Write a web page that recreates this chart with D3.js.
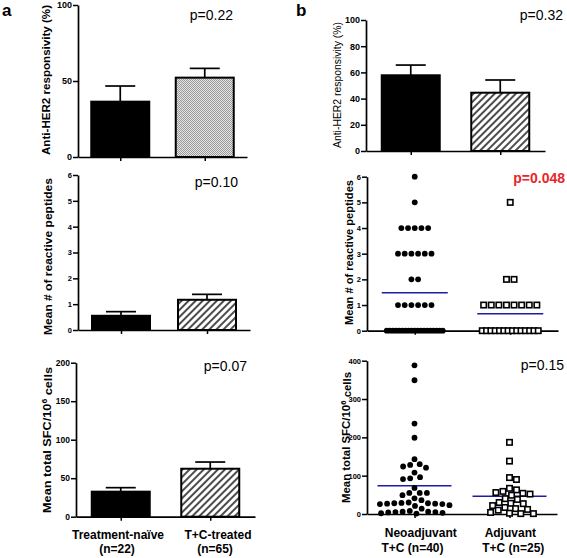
<!DOCTYPE html>
<html><head><meta charset="utf-8">
<script src="https://cdn.jsdelivr.net/npm/d3@7/dist/d3.min.js"></script>
<style>
html,body{margin:0;padding:0;background:#fff;}
svg{display:block;font-family:"Liberation Sans",Arial,sans-serif;}
</style></head>
<body><svg id="c" width="567" height="558"></svg>
<script>
// ---------- data ----------
const groupsA = ["Treatment-naïve", "T+C-treated"];
const nLabelsA = ["(n=22)", "(n=65)"];
const groupsB = ["Neoadjuvant", "Adjuvant"];
const nLabelsB = ["T+C (n=40)", "T+C (n=25)"];

const respA = [36.4, 52.2];
const respASem = [10.3, 6.1];
const peptA = [0.55, 1.17];
const peptASem = [0.16, 0.21];
const sfcA = [32.5, 62.3];
const sfcASem = [5.2, 8.7];
const respB = [57.8, 44.5];
const respBSem = [7.8, 9.7];

const peptNeo = [6, 5, 4, 4, 4, 4, 4, 3, 3, 3, 3, 3, 3, 2, 2, 1, 1, 1, 1, 1, 1,
  0, 0, 0, 0, 0, 0, 0, 0, 0, 0, 0, 0, 0, 0, 0, 0, 0, 0, 0];
const peptAdj = [5, 2, 2, 1, 1, 1, 1, 1, 1, 1, 1, 0, 0, 0, 0, 0, 0, 0, 0, 0, 0, 0, 0, 0, 0];
const peptMeans = [1.48, 0.66];

const sfcNeo = [388, 349, 236, 199, 143, 128, 121, 124, 130, 108, 91, 93, 96, 68,
  55, 55, 55, 49, 41, 36, 28, 27, 29, 26, 28, 27, 30, 26, 21, 23, 14,
  5, 4, 6, 3, 5, 2, 6, 1, 8];
const sfcAdj = [187, 138, 95, 90, 63, 56, 52, 54, 59, 67, 49, 38, 28, 27, 30, 40,
  22, 14, 10, 2, 1, 1, 4, 12, 17];
const sfcMeans = [73.8, 46.2];

const pValues = ["p=0.22", "p=0.10", "p=0.07", "p=0.32", "p=0.048", "p=0.15"];
const ticksResp = [0, 50, 100];
const ticksPept = [0, 1, 2, 3, 4, 5, 6];
const ticksSfcA = [0, 50, 100, 150, 200];
const ticksRespB = [0, 20, 40, 60, 80, 100];
const ticksSfcB = [0, 100, 200, 300, 400];

// ---------- drawing ----------
const svg = d3.select("#c");
const defs = svg.append("defs");
const hatch = defs.append("pattern").attr("id", "hatch").attr("patternUnits", "userSpaceOnUse")
  .attr("width", 5).attr("height", 5).attr("patternTransform", "rotate(45)");
hatch.append("rect").attr("width", 5).attr("height", 5).attr("fill", "#fff");
hatch.append("line").attr("x1", 1).attr("y1", 0).attr("x2", 1).attr("y2", 5)
  .attr("stroke", "#000").attr("stroke-width", 1.4);
const dots = defs.append("pattern").attr("id", "dots").attr("patternUnits", "userSpaceOnUse")
  .attr("width", 2).attr("height", 2);
dots.append("rect").attr("width", 2).attr("height", 2).attr("fill", "#e4e4e4");
dots.append("rect").attr("width", 1).attr("height", 1).attr("fill", "#9a9a9a");
dots.append("rect").attr("x", 1).attr("y", 1).attr("width", 1).attr("height", 1).attr("fill", "#9a9a9a");

function axes(cfg) {
  const y = d3.scaleLinear().domain([0, cfg.ticks[cfg.ticks.length - 1]]).range([cfg.y0, cfg.yTop]);
  const x = d3.scalePoint().domain(cfg.groups).range([cfg.axisX, cfg.xRight]).padding(0.5);
  const gy = svg.append("g").attr("transform", `translate(${cfg.axisX},0)`)
    .call(d3.axisLeft(y).tickValues(cfg.ticks).tickFormat(d3.format("d"))
      .tickSize(5).tickSizeOuter(0).tickPadding(1));
  gy.select(".domain").attr("stroke", "#000").attr("stroke-width", 1.7);
  gy.selectAll(".tick line").attr("stroke", "#000").attr("stroke-width", 1.5);
  gy.selectAll(".tick text").attr("fill", "#000").attr("font-weight", "bold")
    .attr("font-size", cfg.tickFs).attr("font-family", "Liberation Sans, Arial, sans-serif");
  const gx = svg.append("g").attr("transform", `translate(0,${cfg.y0})`)
    .call(d3.axisBottom(x).tickSize(4).tickSizeOuter(0).tickFormat(""));
  gx.select(".domain").attr("stroke", "#000").attr("stroke-width", 1.7);
  gx.selectAll(".tick line").attr("stroke", "#000").attr("stroke-width", 1.5);
  // y title
  const t = svg.append("text")
    .attr("transform", `translate(${cfg.labX},${cfg.labY}) rotate(-90)`)
    .attr("text-anchor", "middle").attr("dy", "0.35em")
    .attr("font-size", 11).attr("font-weight", cfg.labWeight || "bold")
    .attr("textLength", cfg.labLen).attr("lengthAdjust", "spacingAndGlyphs");
  if (cfg.sup) {
    t.append("tspan").text(cfg.label[0]);
    t.append("tspan").attr("dy", "-0.45em").attr("font-size", 7.5).text(cfg.sup);
    t.append("tspan").attr("dy", "0.45em").text(cfg.label[1]);
  } else t.text(cfg.label);
  // p value
  svg.append("text").attr("x", cfg.pX).attr("y", cfg.pY).attr("text-anchor", "end")
    .attr("font-size", 14).attr("font-weight", cfg.pBold ? "bold" : "normal")
    .attr("fill", cfg.pColor || "#000").text(cfg.p);
  return { x, y };
}

function bars(cfg, means, sems, fills) {
  const { x, y } = axes(cfg);
  const bw = 58;
  cfg.groups.forEach((g, i) => {
    const cx = x(g);
    const top = y(means[i]);
    const et = y(means[i] + sems[i]);
    svg.append("line").attr("x1", cx).attr("x2", cx).attr("y1", top).attr("y2", et)
      .attr("stroke", "#000").attr("stroke-width", 1.7);
    svg.append("line").attr("x1", cx - 15).attr("x2", cx + 15).attr("y1", et).attr("y2", et)
      .attr("stroke", "#000").attr("stroke-width", 1.7);
    svg.append("rect").attr("x", cx - bw / 2).attr("y", top).attr("width", bw)
      .attr("height", cfg.y0 - top).attr("fill", fills[i]).attr("stroke", "#000").attr("stroke-width", 2);
  });
}

function drawMark(cx, cy, shape) {
  if (shape === "circle") {
    svg.append("circle").attr("cx", cx).attr("cy", cy).attr("r", 2.9).attr("fill", "#000");
  } else {
    svg.append("rect").attr("x", cx - 2.7).attr("y", cy - 2.7).attr("width", 5.4).attr("height", 5.4)
      .attr("fill", "#fff").attr("stroke", "#000").attr("stroke-width", 1.6);
  }
}

function rowScatter(cfg, sets, means) {
  const { x, y } = axes(cfg);
  const shapes = ["circle", "square"];
  const defSp = [6.7, 7.6];
  cfg.groups.forEach((g, gi) => {
    const cx = x(g);
    const rows = d3.group(sets[gi], v => v);
    rows.forEach((vals, v) => {
      const n = vals.length;
      const sp = n > 1 ? Math.min(defSp[gi], 56 / (n - 1)) : 0;
      vals.forEach((_, i) => drawMark(cx + (i - (n - 1) / 2) * sp, y(v), shapes[gi]));
    });
    svg.append("line").attr("x1", cx - 33).attr("x2", cx + 33).attr("y1", y(means[gi])).attr("y2", y(means[gi]))
      .attr("stroke", "#1c1ca8").attr("stroke-width", 1.5);
  });
}

function swarmScatter(cfg, sets, means) {
  const { x, y } = axes(cfg);
  const shapes = ["circle", "square"];
  const d = 7.2;
  cfg.groups.forEach((g, gi) => {
    const cx = x(g);
    svg.append("line").attr("x1", cx - 37).attr("x2", cx + 37).attr("y1", y(means[gi])).attr("y2", y(means[gi]))
      .attr("stroke", "#1c1ca8").attr("stroke-width", 1.5);
    const vals = sets[gi].slice().sort((a, b) => b - a);
    const placed = [];
    vals.forEach(v => {
      const py = y(v);
      const cands = [0];
      placed.forEach(p => {
        const dy = Math.abs(p.y - py);
        if (dy < d) {
          const dx = Math.sqrt(d * d - dy * dy);
          cands.push(p.x + dx, p.x - dx);
        }
      });
      cands.sort((a, b) => Math.abs(a) - Math.abs(b) || b - a);
      let best = 0;
      for (const c of cands) {
        if (placed.every(p => (p.x - c) ** 2 + (p.y - py) ** 2 >= d * d - 0.01)) { best = c; break; }
      }
      placed.push({ x: best, y: py });
    });
    placed.forEach(p => drawMark(cx + p.x, p.y, shapes[gi]));
  });
}

// Panel a
bars({ groups: groupsA, axisX: 78, xRight: 247, y0: 157, yTop: 5, ticks: ticksResp, tickFs: 9,
  label: "Anti-HER2 responsivity (%)", labX: 45.7, labY: 80, labLen: 150,
  p: pValues[0], pX: 233, pY: 20 }, respA, respASem, ["#000", "url(#dots)"]);
bars({ groups: groupsA, axisX: 78, xRight: 250, y0: 330, yTop: 175, ticks: ticksPept, tickFs: 7.5,
  label: "Mean # of reactive peptides", labX: 48, labY: 256.5, labLen: 157,
  p: pValues[1], pX: 238, pY: 186.5 }, peptA, peptASem, ["#000", "url(#hatch)"]);
bars({ groups: groupsA, axisX: 76, xRight: 255, y0: 516.7, yTop: 362.7, ticks: ticksSfcA, tickFs: 8.5,
  label: ["Mean total SFC/10", " cells"], sup: "6", labX: 46.7, labY: 440, labLen: 146,
  p: pValues[2], pX: 247, pY: 370.5 }, sfcA, sfcASem, ["#000", "url(#hatch)"]);

// Panel b
bars({ groups: groupsB, axisX: 366, xRight: 545, y0: 151, yTop: 20, ticks: ticksRespB, tickFs: 9,
  label: "Anti-HER2 responsivity (%)", labX: 337.3, labY: 85, labLen: 126, labWeight: "normal",
  p: pValues[3], pX: 563, pY: 20 }, respB, respBSem, ["#000", "url(#hatch)"]);
rowScatter({ groups: groupsB, axisX: 367, xRight: 558, y0: 330.7, yTop: 176.7, ticks: ticksPept, tickFs: 7.5,
  label: "Mean # of reactive peptides", labX: 349.3, labY: 252.5, labLen: 145,
  p: pValues[4], pX: 565, pY: 183, pBold: true, pColor: "#e8262a" }, [peptNeo, peptAdj], peptMeans);
swarmScatter({ groups: groupsB, axisX: 367, xRight: 557, y0: 514, yTop: 360.7, ticks: ticksSfcB, tickFs: 7.5,
  label: ["Mean total SFC/10", " cells"], sup: "6", labX: 346, labY: 437.5, labLen: 131,
  p: pValues[5], pX: 564, pY: 370 }, [sfcNeo, sfcAdj], sfcMeans);

// Category labels
const catA = [118, 218];
groupsA.forEach((g, i) => {
  svg.append("text").attr("x", catA[i]).attr("y", 539).attr("text-anchor", "middle")
    .attr("font-size", 12).attr("font-weight", "bold").text(g);
  svg.append("text").attr("x", catA[i] - (i ? 3 : 1)).attr("y", 552.5).attr("text-anchor", "middle")
    .attr("font-size", 12).attr("font-weight", "bold").text(nLabelsA[i]);
});
const catB = [420.8, 510.3];
const catB2 = [412.5, 513.3];
groupsB.forEach((g, i) => {
  svg.append("text").attr("x", catB[i]).attr("y", 536.5).attr("text-anchor", "middle")
    .attr("font-size", 12).attr("font-weight", "bold").text(g);
  svg.append("text").attr("x", catB2[i]).attr("y", 551.5).attr("text-anchor", "middle")
    .attr("font-size", 12).attr("font-weight", "bold").text(nLabelsB[i]);
});

// Panel letters
svg.append("text").attr("x", 2).attr("y", 16).attr("font-size", 17).attr("font-weight", "bold").text("a");
svg.append("text").attr("x", 296).attr("y", 16).attr("font-size", 17).attr("font-weight", "bold").text("b");
</script></body></html>
